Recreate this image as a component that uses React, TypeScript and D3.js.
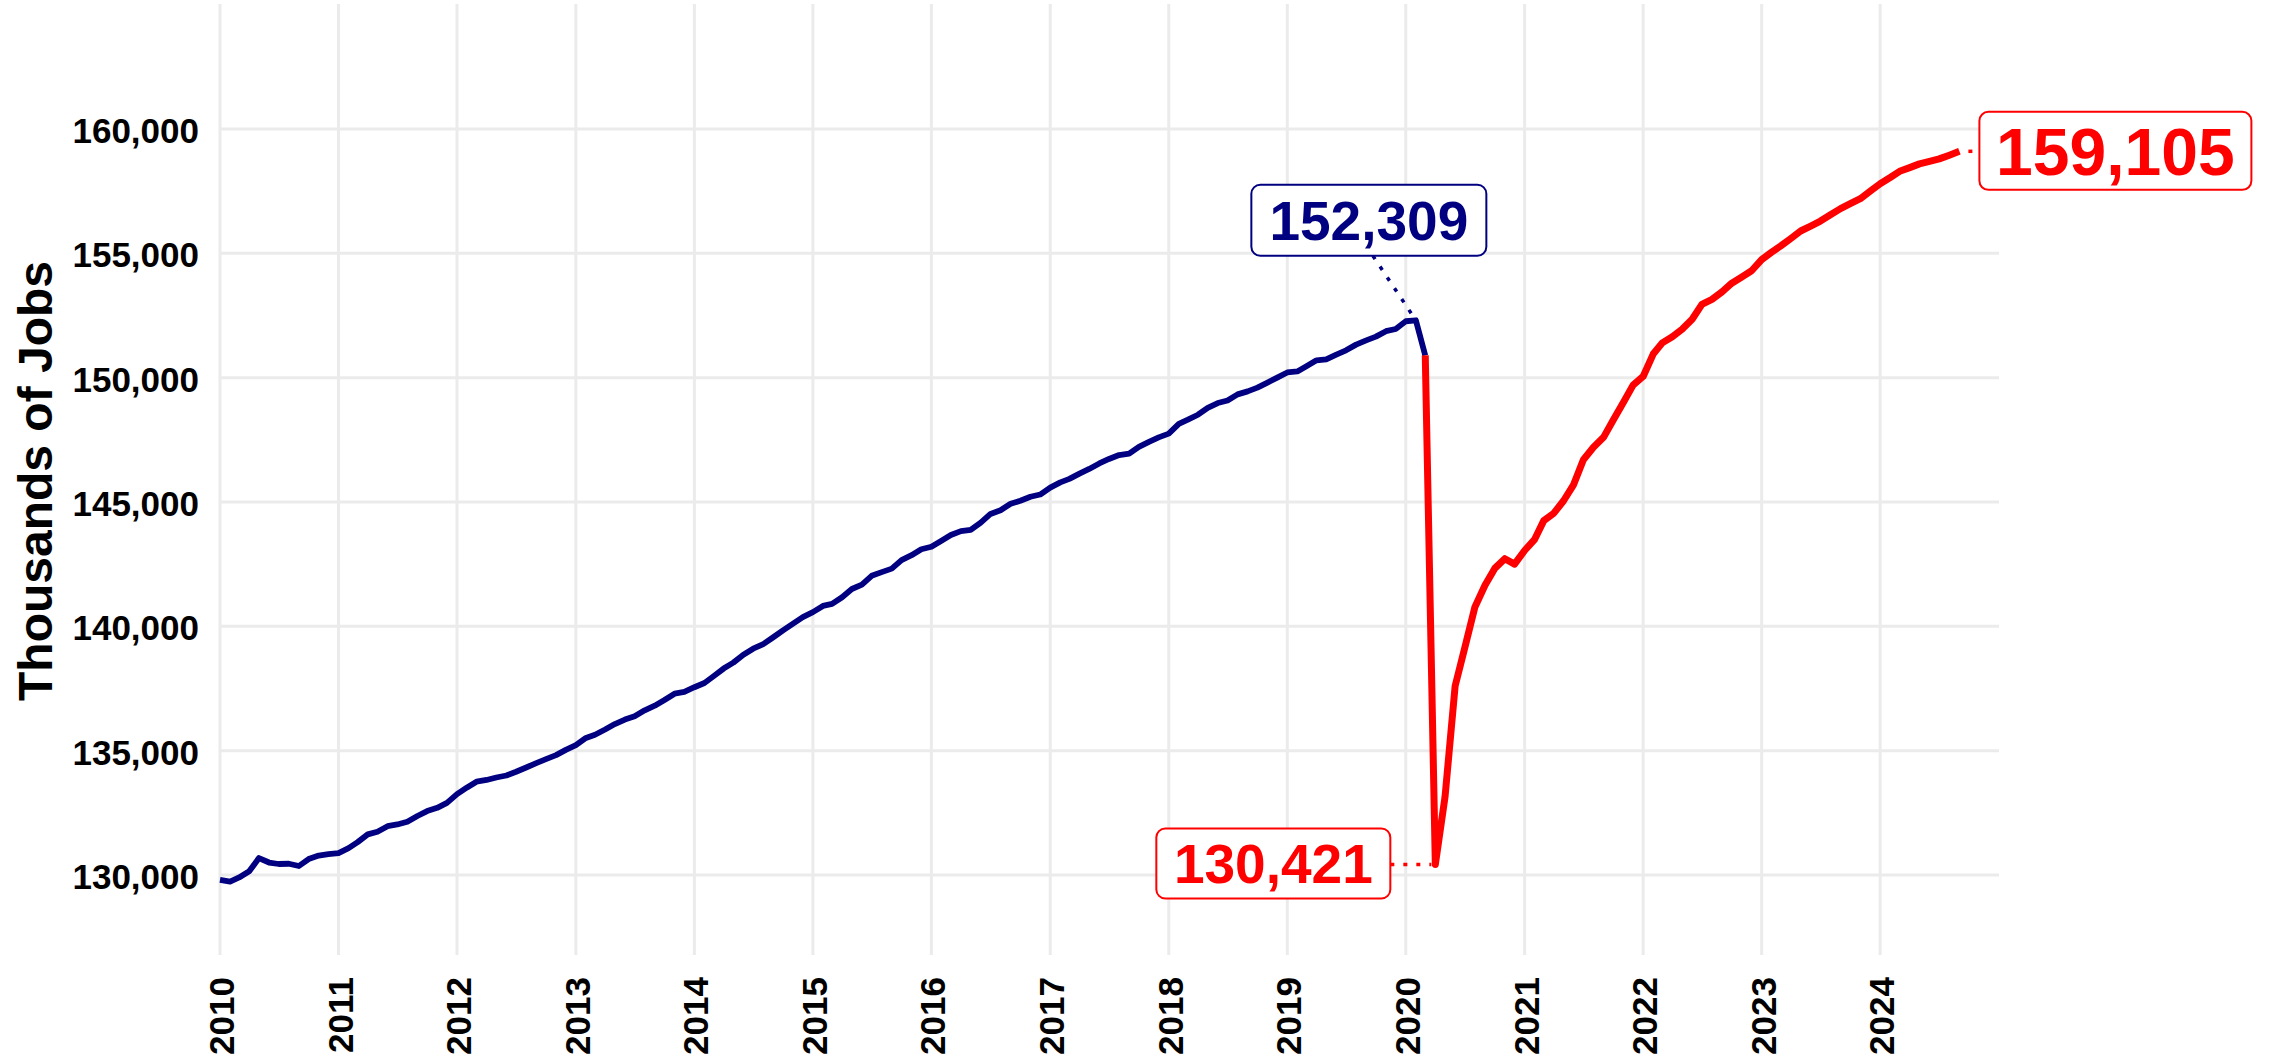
import React from "react";
import * as d3 from "d3";

// ---------------- data ----------------
// Total nonfarm employment, thousands of jobs, monthly.
// Pre-pandemic series: Jan 2010 .. Mar 2020
const preStartYear = 2010;
const preStartMonth = 0;
const preValues = [
  // 2010
  129800, 129730, 129900, 130150, 130680, 130500, 130440, 130450, 130360, 130640, 130780, 130840,
  // 2011
  130880, 131080, 131320, 131630, 131740, 131960, 132030, 132140, 132370, 132570, 132700, 132900,
  // 2012
  133250, 133520, 133750, 133820, 133920, 134000, 134150, 134320, 134500, 134660, 134820, 135030,
  // 2013
  135220, 135510, 135640, 135850, 136070, 136250, 136380, 136620, 136810, 137040, 137290, 137360,
  // 2014
  137550, 137720, 137990, 138300, 138540, 138860, 139100, 139280, 139560, 139840, 140110, 140370,
  // 2015
  140570, 140820, 140900, 141170, 141500, 141680, 142030, 142180, 142320, 142660, 142860, 143100,
  // 2016
  143200, 143440, 143670, 143830, 143880, 144170, 144520, 144670, 144930, 145050, 145210, 145300,
  // 2017
  145580, 145790, 145930, 146140, 146330, 146550, 146730, 146890, 146950, 147220, 147420, 147600,
  // 2018
  147750, 148140, 148310, 148510, 148790, 148980, 149080, 149330, 149450, 149600, 149800, 150000,
  // 2019
  150210, 150250, 150460, 150700, 150740, 150930, 151100, 151330, 151500, 151650, 151870, 151960,
  // 2020
  152270, 152309, 150895,
];

// Pandemic and recovery series: Mar 2020 .. Sep 2024
const postStartYear = 2020;
const postStartMonth = 2;
const postValues = [
  // 2020 (Mar..Dec)
  150895, 130421, 133157, 137600, 139150, 140780, 141650, 142330, 142720, 142500,
  // 2021
  143050, 143500, 144250, 144550, 145050, 145700, 146700, 147200, 147600, 148300, 149000, 149700,
  // 2022
  150050, 150950, 151400, 151650, 151950, 152350, 152950, 153150, 153450, 153800, 154050, 154300,
  // 2023
  154750, 155050, 155300, 155600, 155900, 156100, 156300, 156550, 156800, 157000, 157200, 157500,
  // 2024 (Jan..Sep)
  157800, 158050, 158300, 158450, 158600, 158700, 158800, 158950, 159105,
];

const yearTicks = [2010, 2011, 2012, 2013, 2014, 2015, 2016, 2017, 2018, 2019, 2020, 2021, 2022, 2023, 2024];
const yTickValues = [130000, 135000, 140000, 145000, 150000, 155000, 160000];
const yAxisTitle = "Thousands of Jobs";

// ---------------- helpers ----------------
type Pt = { date: Date; value: number };
const toSeries = (y0: number, m0: number, vals: number[]): Pt[] =>
  vals.map((v, i) => ({ date: new Date(Date.UTC(y0, m0 + i, 1)), value: v }));

const W = 2273;
const H = 1057;
const FONT = "'Liberation Sans', Arial, Helvetica, sans-serif";
const NAVY = "#000080";
const RED = "#FF0000";
const GRID = "#EBEBEB";

export default function App() {
  const pre = toSeries(preStartYear, preStartMonth, preValues);
  const post = toSeries(postStartYear, postStartMonth, postValues);

  const x = d3
    .scaleUtc()
    .domain([new Date(Date.UTC(2010, 0, 1)), new Date(Date.UTC(2025, 0, 1))])
    .range([220, 1999]);
  const y = d3.scaleLinear().domain([126780, 165030]).range([955, 4]);

  const line = d3
    .line<Pt>()
    .x((d) => x(d.date))
    .y((d) => y(d.value));

  const fmt = d3.format(",");

  const peak = pre.reduce((a, b) => (b.value > a.value ? b : a));
  const trough = post.reduce((a, b) => (b.value < a.value ? b : a));
  const last = post[post.length - 1];

  const [x0, x1] = x.range();
  const [yb, yt] = y.range();

  // annotation geometry (offsets from the annotated point)
  const peakPt = { x: x(peak.date), y: y(peak.value) };
  const peakBox = { cx: peakPt.x - 47, cy: peakPt.y - 100, w: 235, h: 71, fs: 55 };
  const troughPt = { x: x(trough.date), y: y(trough.value) };
  const troughBox = { cx: troughPt.x - 162, cy: troughPt.y - 1, w: 234, h: 70, fs: 55 };
  const lastPt = { x: x(last.date), y: y(last.value) };
  const lastBox = { cx: lastPt.x + 156, cy: lastPt.y - 0.5, w: 272, h: 78, fs: 66 };

  const renderBox = (b: any, color: string, text: string) => (
    <g>
      <rect
        x={b.cx - b.w / 2}
        y={b.cy - b.h / 2}
        width={b.w}
        height={b.h}
        rx={9}
        ry={9}
        fill="#ffffff"
        stroke={color}
        strokeWidth={2}
      />
      <text
        x={b.cx}
        y={b.cy}
        dy="0.36em"
        textAnchor="middle"
        fontFamily={FONT}
        fontWeight="bold"
        fontSize={b.fs}
        fill={color}
      >
        {text}
      </text>
    </g>
  );

  return (
    <svg
      width={W}
      height={H}
      viewBox={`0 0 ${W} ${H}`}
      style={{ position: "absolute", left: 0, top: 0, display: "block", background: "#ffffff" }}
    >
      <rect x={0} y={0} width={W} height={H} fill="#ffffff" />

      {/* grid */}
      <g>
        {yTickValues.map((v) => (
          <line key={"h" + v} x1={x0} x2={x1} y1={y(v)} y2={y(v)} stroke={GRID} strokeWidth={3} />
        ))}
        {yearTicks.map((yr) => {
          const xx = x(new Date(Date.UTC(yr, 0, 1)));
          return <line key={"v" + yr} x1={xx} x2={xx} y1={yt} y2={yb} stroke={GRID} strokeWidth={3} />;
        })}
      </g>

      {/* y tick labels */}
      <g fontFamily={FONT} fontWeight="bold" fontSize={35} fill="#000">
        {yTickValues.map((v) => (
          <text key={"yl" + v} x={199} y={y(v)} dy="0.4em" textAnchor="end">
            {fmt(v)}
          </text>
        ))}
      </g>

      {/* x tick labels */}
      <g fontFamily={FONT} fontWeight="bold" fontSize={35} fill="#000">
        {yearTicks.map((yr) => {
          const xx = x(new Date(Date.UTC(yr, 0, 1)));
          return (
            <text key={"xl" + yr} transform={`translate(${xx},977) rotate(-90)`} dy="0.4em" textAnchor="end">
              {yr}
            </text>
          );
        })}
      </g>

      {/* axis title */}
      <text
        transform={`translate(51.5,481) rotate(-90)`}
        textAnchor="middle"
        fontFamily={FONT}
        fontWeight="bold"
        fontSize={48}
        fill="#000"
      >
        {yAxisTitle}
      </text>

      {/* connectors */}
      <line
        x1={peakBox.cx + 4}
        y1={peakBox.cy + peakBox.h / 2}
        x2={peakPt.x}
        y2={peakPt.y}
        stroke={NAVY}
        strokeWidth={3.5}
        strokeDasharray="4 9"
      />
      <line
        x1={troughBox.cx + troughBox.w / 2}
        y1={troughPt.y}
        x2={troughPt.x - 4}
        y2={troughPt.y}
        stroke={RED}
        strokeWidth={3.5}
        strokeDasharray="4 9"
      />
      <line
        x1={lastPt.x + 6}
        y1={lastPt.y}
        x2={lastBox.cx - lastBox.w / 2}
        y2={lastPt.y}
        stroke={RED}
        strokeWidth={3.5}
        strokeDasharray="4 9"
        strokeDashoffset={-3}
      />

      {/* series */}
      <path d={line(pre) || ""} fill="none" stroke={NAVY} strokeWidth={5.8} strokeLinejoin="round" />
      <path d={line(post) || ""} fill="none" stroke={RED} strokeWidth={7} strokeLinejoin="round" />

      {/* labels */}
      {renderBox(peakBox, NAVY, fmt(peak.value))}
      {renderBox(troughBox, RED, fmt(trough.value))}
      {renderBox(lastBox, RED, fmt(last.value))}
    </svg>
  );
}
